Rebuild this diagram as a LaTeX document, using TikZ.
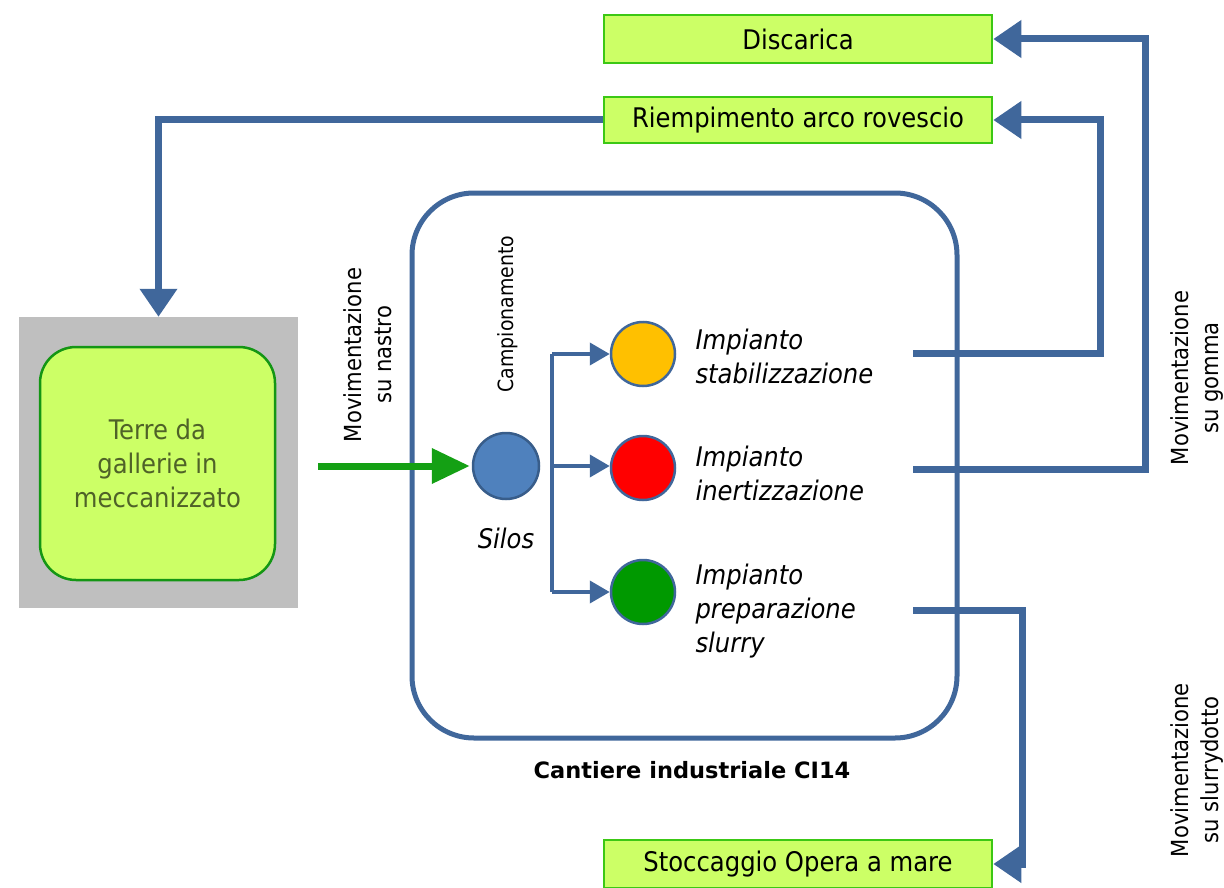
\documentclass[tikz,border=0pt]{standalone}
\usepackage{fontspec}
\setmainfont{DejaVu Sans Condensed}
\newfontfamily\widebold{DejaVu Sans}
\usetikzlibrary{arrows.meta,positioning}
\definecolor{blueline}{RGB}{64,103,155}
\definecolor{lgreen}{RGB}{204,255,102}
\definecolor{bgreen}{RGB}{60,200,20}
\definecolor{dgreen}{RGB}{20,150,20}
\definecolor{grayb}{RGB}{191,191,191}
\definecolor{garrow}{RGB}{20,160,20}
\definecolor{silosc}{RGB}{79,129,189}
\definecolor{silosb}{RGB}{56,93,138}
\definecolor{orangec}{RGB}{255,192,0}
\definecolor{greenc}{RGB}{0,153,0}
\definecolor{olivet}{RGB}{79,98,40}
\begin{document}
\begin{tikzpicture}[x=1pt,y=-1pt,
  dest/.style={draw=bgreen,line width=2.5pt,fill=lgreen,minimum width=388pt,inner sep=0pt,font=\fontsize{27}{30}\selectfont},
  conn/.style={draw=blueline,line width=7pt,-{Triangle[length=28pt,width=36pt]}},
  brarrow/.style={draw=blueline,line width=4pt,-{Triangle[length=20pt,width=22pt]}},
  plant/.style={circle,draw=blueline,line width=2.5pt,minimum size=64pt,inner sep=0pt},
  ptext/.style={anchor=west,align=left,font=\fontsize{27}{34}\selectfont\itshape},
  vtext/.style={rotate=90,align=center,font=\fontsize{23.5}{30}\selectfont}]
\useasboundingbox (0,0) rectangle (1224,888);
% destination boxes
\node[dest,minimum height=48pt] (disc) at (798,39) {Discarica};
\node[dest,minimum height=46pt] (riemp) at (798,120) {Riempimento arco rovescio};
\node[dest,minimum height=48pt] (stocc) at (798,864) {Stoccaggio Opera a mare};
% source
\node[fill=grayb,minimum width=279pt,minimum height=291pt,inner sep=0pt] (gray) at (158.5,462.5) {};
\node[draw=dgreen,line width=2.5pt,fill=lgreen,rounded corners=36pt,minimum width=235pt,minimum height=233pt,inner sep=0pt,align=center,text=olivet,font=\fontsize{27}{34}\selectfont] (terre) at (157.5,463.5) {Terre da\\gallerie in\\meccanizzato};
% industrial site
\node[draw=blueline,line width=5pt,rounded corners=62pt,minimum width=545pt,minimum height=545pt,inner sep=0pt] (site) at (684.5,465.5) {};
\node[font=\widebold\fontsize{22.5}{26}\selectfont\bfseries] (sitelbl) at (692,770) {Cantiere industriale CI14};
% silos
\node[circle,draw=silosb,line width=2.5pt,fill=silosc,minimum size=66pt,inner sep=0pt] (silos) at (506,466) {};
\node[font=\fontsize{27}{30}\selectfont\itshape] (siloslbl) at (506,538) {Silos};
\node[vtext,font=\fontsize{21}{26}\selectfont] (camp) at (508,314) {Campionamento};
\node[vtext] (nastro) at (368,355) {Movimentazione\\su nastro};
% plants
\node[plant,fill=orangec] (c1) at (643,354) {};
\node[plant,fill=red] (c2) at (643,468) {};
\node[plant,fill=greenc] (c3) at (643,592) {};
\node[ptext] (t1) at (692,356) {Impianto\\stabilizzazione};
\node[ptext] (t2) at (692,473) {Impianto\\inertizzazione};
\node[ptext] (t3) at (692,611) {Impianto\\preparazione\\slurry};
% side labels
\node[vtext] (gomma) at (1197,378) {Movimentazione\\su gomma};
\node[vtext] (slurrydotto) at (1197,770) {Movimentazione\\su slurrydotto};
% coordinates
\coordinate (br) at (552,466);
\coordinate (s1) at (913,353);
\coordinate (s2) at (913,469);
\coordinate (s3) at (913,610);
\coordinate (gstart) at (318,466);
% connectors
\draw[line width=7pt,draw=garrow,-{Triangle[length=38pt,width=34pt]},shorten >=2pt] (gstart) -- (silos.west);
\draw[draw=blueline,line width=4pt] (br |- c1.west) -- (br |- c3.west);
\draw[brarrow] (br |- c1.west) -- (c1.west);
\draw[brarrow] (br) -- (br -| c2.west);
\draw[brarrow] (br |- c3.west) -- (c3.west);
\draw[conn] (s1) -- ++(187,0) |- (riemp.east);
\draw[conn] (s2) -- ++(232,0) |- (disc.east);
\draw[conn] (s3) -- ++(109,0) |- (stocc.east);
\draw[conn] (riemp.west) -| (gray.north);
\end{tikzpicture}
\end{document}
